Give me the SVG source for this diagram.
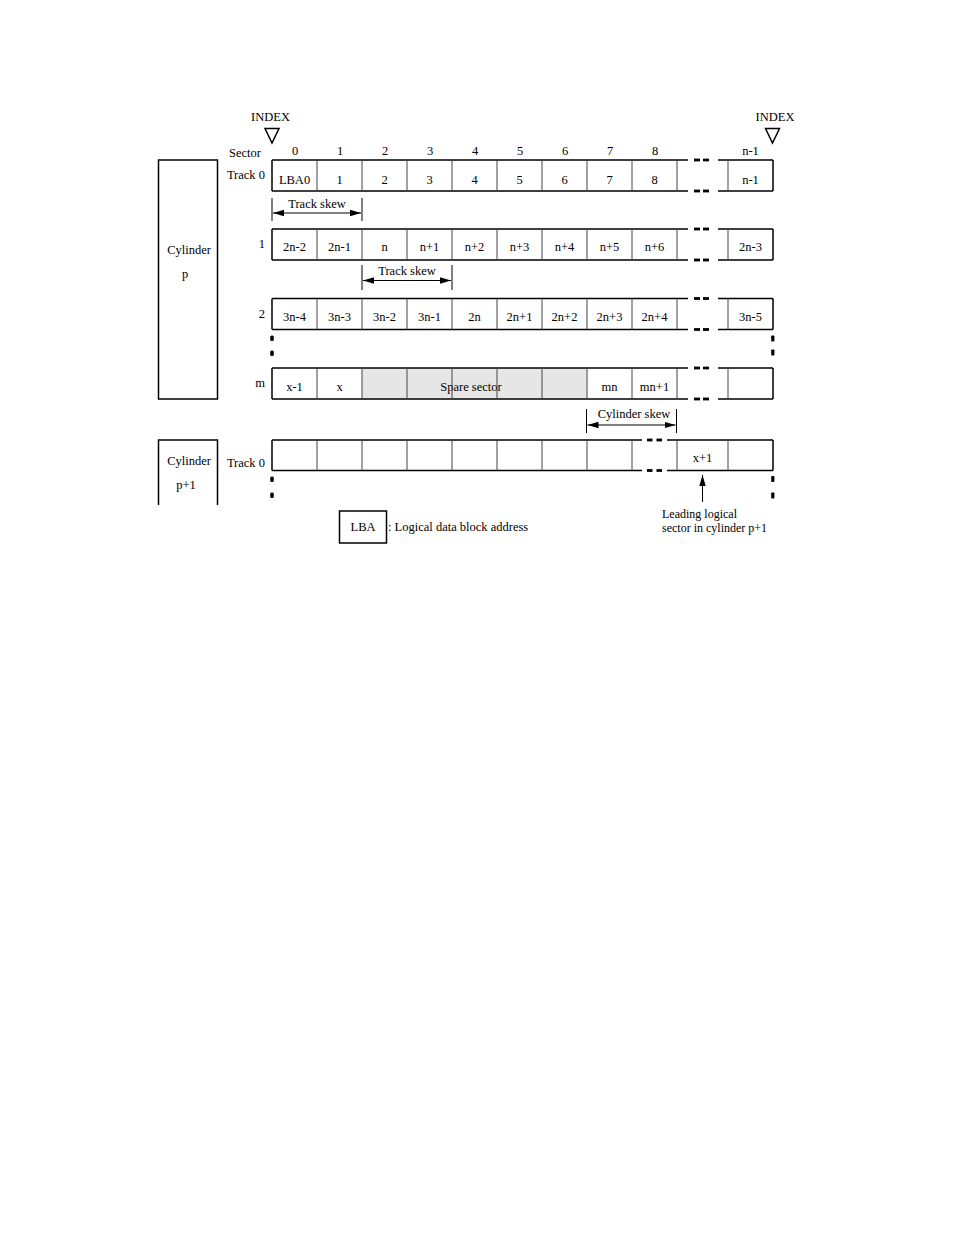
<svg xmlns="http://www.w3.org/2000/svg" width="954" height="1235" viewBox="0 0 954 1235">
<defs>
<style>
text{font-family:"Liberation Serif","Times New Roman",serif;font-size:12.5px;fill:#000}
.c{text-anchor:middle}
.e{text-anchor:end}
.sm{font-size:12px}
.ob{fill:none;stroke:#000;stroke-width:1.5}
.dv{stroke:#444;stroke-width:1}
.dot{fill:#000}
.tri{fill:none;stroke:#000;stroke-width:1.5;stroke-linejoin:miter}
.arr{stroke:#000;stroke-width:1}
</style>
<marker id="ah" markerWidth="12" markerHeight="8" refX="11" refY="4" orient="auto-start-reverse" markerUnits="userSpaceOnUse">
<path d="M0,0.8 L11,4 L0,7.2 z" fill="#000"/>
</marker>
</defs>
<rect width="954" height="1235" fill="#fff"/>

<g id="index-left">
<text class="c" x="270.5" y="121">INDEX</text>
<polygon class="tri" points="265,128.5 279,128.5 272,143"/>
</g>
<g id="index-right">
<text class="c" x="775" y="121">INDEX</text>
<polygon class="tri" points="765.5,128.5 779.5,128.5 772.5,143"/>
</g>

<g id="sector-header">
<text class="e" x="261" y="157">Sector</text>
<text class="c" x="295" y="155">0</text>
<text class="c" x="340" y="155">1</text>
<text class="c" x="385" y="155">2</text>
<text class="c" x="430" y="155">3</text>
<text class="c" x="475" y="155">4</text>
<text class="c" x="520" y="155">5</text>
<text class="c" x="565" y="155">6</text>
<text class="c" x="610" y="155">7</text>
<text class="c" x="655" y="155">8</text>
<text class="c" x="750.5" y="155">n-1</text>
</g>

<g id="cylinder-p">
<rect class="ob" x="158.5" y="160" width="59" height="239"/>
<text class="c" x="189" y="254">Cylinder</text>
<text class="c" x="185" y="278">p</text>
</g>

<g id="cylinder-p1">
<path class="ob" d="M158.5,505 V440 H217.5 V505"/>
<text class="c" x="189" y="465">Cylinder</text>
<text class="c" x="186" y="489">p+1</text>
</g>

<g id="track-0">
<text class="e" x="265" y="179">Track 0</text>
<path class="ob" d="M272,160 H688 M718,160 H773 M272,191 H688 M718,191 H773 M272,160 V191 M773,160 V191"/>
<path class="dv" d="M317,160V191M362,160V191M407,160V191M452,160V191M497,160V191M542,160V191M587,160V191M632,160V191M677,160V191M728,160V191"/>
<rect class="dot" x="694" y="158.6" width="6" height="2.8"/><rect class="dot" x="703" y="158.6" width="6" height="2.8"/>
<rect class="dot" x="694" y="189.6" width="6" height="2.8"/><rect class="dot" x="703" y="189.6" width="6" height="2.8"/>
<text class="c" x="294.5" y="184">LBA0</text>
<text class="c" x="339.5" y="184">1</text>
<text class="c" x="384.5" y="184">2</text>
<text class="c" x="429.5" y="184">3</text>
<text class="c" x="474.5" y="184">4</text>
<text class="c" x="519.5" y="184">5</text>
<text class="c" x="564.5" y="184">6</text>
<text class="c" x="609.5" y="184">7</text>
<text class="c" x="654.5" y="184">8</text>
<text class="c" x="750.5" y="184">n-1</text>
</g>

<g id="track-1">
<text class="e" x="265" y="248">1</text>
<path class="ob" d="M272,229 H688 M718,229 H773 M272,260 H688 M718,260 H773 M272,229 V260 M773,229 V260"/>
<path class="dv" d="M317,229V260M362,229V260M407,229V260M452,229V260M497,229V260M542,229V260M587,229V260M632,229V260M677,229V260M728,229V260"/>
<rect class="dot" x="694" y="227.6" width="6" height="2.8"/><rect class="dot" x="703" y="227.6" width="6" height="2.8"/>
<rect class="dot" x="694" y="258.6" width="6" height="2.8"/><rect class="dot" x="703" y="258.6" width="6" height="2.8"/>
<text class="c" x="294.5" y="251">2n-2</text>
<text class="c" x="339.5" y="251">2n-1</text>
<text class="c" x="384.5" y="251">n</text>
<text class="c" x="429.5" y="251">n+1</text>
<text class="c" x="474.5" y="251">n+2</text>
<text class="c" x="519.5" y="251">n+3</text>
<text class="c" x="564.5" y="251">n+4</text>
<text class="c" x="609.5" y="251">n+5</text>
<text class="c" x="654.5" y="251">n+6</text>
<text class="c" x="750.5" y="251">2n-3</text>
</g>

<g id="track-2">
<text class="e" x="265" y="318">2</text>
<path class="ob" d="M272,298.5 H688 M718,298.5 H773 M272,329.5 H688 M718,329.5 H773 M272,298.5 V329.5 M773,298.5 V329.5"/>
<path class="dv" d="M317,298.5V329.5M362,298.5V329.5M407,298.5V329.5M452,298.5V329.5M497,298.5V329.5M542,298.5V329.5M587,298.5V329.5M632,298.5V329.5M677,298.5V329.5M728,298.5V329.5"/>
<rect class="dot" x="694" y="297.1" width="6" height="2.8"/><rect class="dot" x="703" y="297.1" width="6" height="2.8"/>
<rect class="dot" x="694" y="328.1" width="6" height="2.8"/><rect class="dot" x="703" y="328.1" width="6" height="2.8"/>
<text class="c" x="294.5" y="320.5">3n-4</text>
<text class="c" x="339.5" y="320.5">3n-3</text>
<text class="c" x="384.5" y="320.5">3n-2</text>
<text class="c" x="429.5" y="320.5">3n-1</text>
<text class="c" x="474.5" y="320.5">2n</text>
<text class="c" x="519.5" y="320.5">2n+1</text>
<text class="c" x="564.5" y="320.5">2n+2</text>
<text class="c" x="609.5" y="320.5">2n+3</text>
<text class="c" x="654.5" y="320.5">2n+4</text>
<text class="c" x="750.5" y="320.5">3n-5</text>
<rect class="dot" x="270.2" y="335.5" width="3.6" height="5.5" rx="1.5"/>
<rect class="dot" x="270.2" y="350.5" width="3.6" height="5.5" rx="1.5"/>
<rect class="dot" x="771.2" y="335.5" width="3.2" height="6" rx="0.8"/>
<rect class="dot" x="771.2" y="349.5" width="3.2" height="6" rx="0.8"/>
</g>

<g id="track-m">
<text class="e" x="265" y="387">m</text>
<rect x="362" y="368" width="225" height="31" fill="#e6e6e6"/>
<text class="c" x="471" y="390.5">Spare sector</text>
<path class="ob" d="M272,368 H688 M718,368 H773 M272,399 H688 M718,399 H773 M272,368 V399 M773,368 V399"/>
<path class="dv" d="M317,368V399M362,368V399M407,368V399M452,368V399M497,368V399M542,368V399M587,368V399M632,368V399M677,368V399M728,368V399"/>
<rect class="dot" x="694" y="366.6" width="6" height="2.8"/><rect class="dot" x="703" y="366.6" width="6" height="2.8"/>
<rect class="dot" x="694" y="397.6" width="6" height="2.8"/><rect class="dot" x="703" y="397.6" width="6" height="2.8"/>
<text class="c" x="294.5" y="390.5">x-1</text>
<text class="c" x="339.5" y="390.5">x</text>
<text class="c" x="609.5" y="390.5">mn</text>
<text class="c" x="654.5" y="390.5">mn+1</text>
</g>

<g id="cyl-p1-track-0">
<text class="e" x="265" y="467">Track 0</text>
<path class="ob" d="M272,440 H642 M667,440 H773 M272,470.5 H642 M667,470.5 H773 M272,440 V470.5 M773,440 V470.5"/>
<path class="dv" d="M317,440V470.5M362,440V470.5M407,440V470.5M452,440V470.5M497,440V470.5M542,440V470.5M587,440V470.5M632,440V470.5M677,440V470.5M728,440V470.5"/>
<rect class="dot" x="647" y="438.6" width="5.5" height="2.8"/><rect class="dot" x="656.5" y="438.6" width="5.5" height="2.8"/>
<rect class="dot" x="647" y="469.1" width="5.5" height="2.8"/><rect class="dot" x="656.5" y="469.1" width="5.5" height="2.8"/>
<text class="c" x="702.5" y="461.5">x+1</text>
<rect class="dot" x="270.2" y="476.5" width="3.6" height="5.5" rx="1.5"/>
<rect class="dot" x="270.2" y="492.5" width="3.6" height="5.5" rx="1.5"/>
<rect class="dot" x="771.2" y="476" width="3.2" height="6" rx="0.8"/>
<rect class="dot" x="771.2" y="492.5" width="3.2" height="6" rx="0.8"/>
</g>

<g id="connectors">
<path class="arr" d="M272,198 V221 M362,198 V221"/>
<line class="arr" x1="273" y1="213" x2="361" y2="213" marker-start="url(#ah)" marker-end="url(#ah)"/>
<text class="c" x="317" y="208">Track skew</text>
<path class="arr" d="M362,265 V290 M452,265 V290"/>
<line class="arr" x1="363" y1="280.5" x2="451" y2="280.5" marker-start="url(#ah)" marker-end="url(#ah)"/>
<text class="c" x="407" y="275">Track skew</text>
<path class="arr" d="M586.5,409 V433 M676.5,409 V433"/>
<line class="arr" x1="587.5" y1="425" x2="675.5" y2="425" marker-start="url(#ah)" marker-end="url(#ah)"/>
<text class="c" x="634" y="418">Cylinder skew</text>
<line class="arr" x1="702.5" y1="502" x2="702.5" y2="475" stroke-width="1.2" marker-end="url(#ah)"/>
<text class="sm" x="662" y="518">Leading logical</text>
<text class="sm" x="662" y="531.5">sector in cylinder p+1</text>
</g>

<g id="legend">
<rect class="ob" x="339.5" y="511" width="47" height="32"/>
<text class="c" x="363" y="531">LBA</text>
<text x="388" y="531">: Logical data block address</text>
</g>
</svg>
